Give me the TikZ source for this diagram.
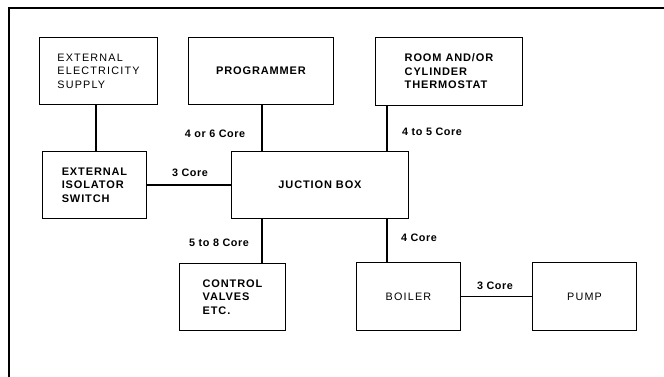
\documentclass[tikz,border=0pt]{standalone}
\usepackage{fontspec}
\setmainfont{Liberation Sans}
\newfontfamily\boxfont[LetterSpace=11]{Liberation Sans}
\newfontfamily\boxbfont[LetterSpace=8]{Liberation Sans}
\newfontfamily\lblfont[LetterSpace=5]{Liberation Sans}
\begin{document}
\begin{tikzpicture}[x=1pt,y=-1pt,
  box/.style={draw,line width=1.8pt,rectangle,inner sep=0pt,align=left,
    font=\boxfont\fontsize{10.8}{13.5}\selectfont},
  boxb/.style={box,font=\boxbfont\bfseries\fontsize{11}{13.5}\selectfont},
  wire/.style={line width=1.3pt},
  lbl/.style={inner sep=0pt,font=\lblfont\bfseries\fontsize{10.8}{12}\selectfont}]
\useasboundingbox (0,0) rectangle (664,377);
\draw[line width=1.6pt] (9,377) -- (9,8) -- (664,8);
\node[box,minimum width=118,minimum height=67] (sup) at (98.5,71) {EXTERNAL\\ELECTRICITY\\SUPPLY};
\node[boxb,minimum width=145,minimum height=67] (prog) at (261,71) {PROGRAMMER};
\node[boxb,minimum width=147,minimum height=68] (thermo) at (449,71.5) {ROOM AND/OR\\CYLINDER\\THERMOSTAT};
\node[boxb,minimum width=104,minimum height=67] (iso) at (94.5,185) {EXTERNAL\\ISOLATOR\\SWITCH};
\node[boxb,minimum width=177,minimum height=67] (jb) at (320,185) {JUCTION BOX};
\node[boxb,minimum width=106,minimum height=67] (valves) at (232.5,297) {CONTROL\\VALVES\\ETC.};
\node[box,minimum width=104,minimum height=68] (boiler) at (408.5,296.5) {BOILER};
\node[box,minimum width=104,minimum height=68] (pump) at (584.5,296.5) {PUMP};
\coordinate (xa) at (96,0);
\coordinate (xb) at (262,0);
\coordinate (xc) at (387,0);
\draw[wire] (sup.south -| xa) -- (iso.north -| xa);
\draw[wire] (prog.south -| xb) -- (jb.north -| xb);
\draw[wire] (thermo.south -| xc) -- (jb.north -| xc);
\draw[wire] (iso.east) -- (iso.east -| jb.west);
\draw[wire] (jb.south -| xb) -- (valves.north -| xb);
\draw[wire] (jb.south -| xc) -- (boiler.north -| xc);
\draw[wire] (boiler.east) -- (pump.west);
\node[lbl] (l1) at (215,134) {4 or 6 Core};
\node[lbl] (l2) at (190,173) {3 Core};
\node[lbl] (l3) at (432,132) {4 to 5 Core};
\node[lbl] (l4) at (219,243) {5 to 8 Core};
\node[lbl] (l5) at (419,238) {4 Core};
\node[lbl] (l6) at (495,286) {3 Core};
\end{tikzpicture}
\end{document}
